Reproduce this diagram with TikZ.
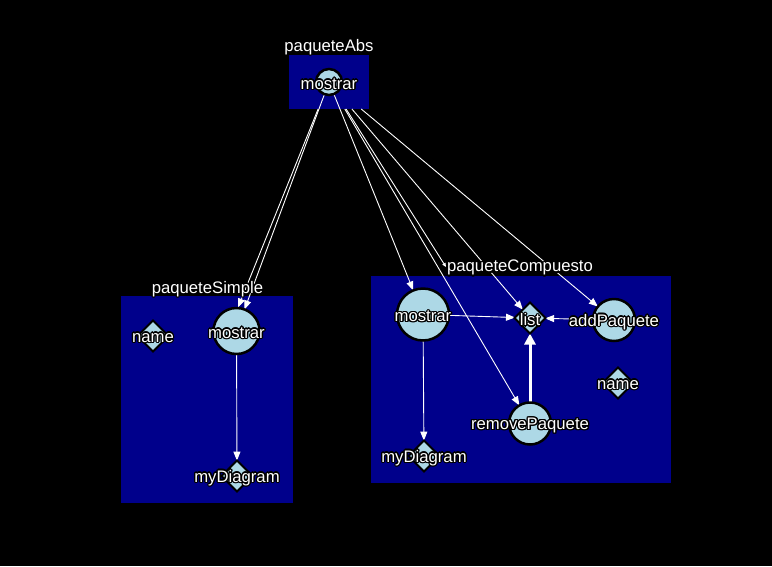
\documentclass[tikz,border=0pt]{standalone}
\usepackage{fontspec}
\setmainfont{Liberation Sans}
\usepackage[copies]{contour}
\contourlength{1.3pt}
\contournumber{12}
\usetikzlibrary{arrows.meta,shapes.geometric}
\definecolor{grp}{RGB}{0,0,139}
\definecolor{lb}{RGB}{173,216,230}
\pgfdeclarelayer{bg}
\pgfdeclarelayer{edges}
\pgfsetlayers{bg,edges,main}
\begin{document}
\begin{tikzpicture}[x=1pt,y=-1pt,
  every node/.style={font=\fontsize{16.7}{19}\selectfont, text=white, inner sep=0pt, outer sep=0pt},
  txt/.style={yshift=-2.5pt},
  grpbox/.style={rectangle, fill=grp, draw=none},
  circ/.style={circle, fill=lb, draw=black, line width=2.5pt, minimum size=#1},
  dia/.style={diamond, fill=lb, draw=black, line width=2pt, minimum size=31pt},
  conn/.style={draw=white, line width=0.9pt, -{Triangle[length=9pt,width=7pt]}},
  thickconn/.style={draw=white, line width=3pt, -{Triangle[length=11pt,width=11pt]}},
  smallconn/.style={draw=white, line width=0.9pt, -{Triangle[length=4pt,width=3.5pt]}}]
\useasboundingbox (0,0) rectangle (772,566);
\begin{pgfonlayer}{bg}
\fill[black] (0,0) rectangle (772,566);
\node[grpbox, minimum width=80pt, minimum height=54pt] (abs) at (329,82) {};
\node[grpbox, minimum width=172pt, minimum height=207pt] (simple) at (207,399.5) {};
\node[grpbox, minimum width=300pt, minimum height=207pt] (comp) at (520.5,379.5) {};
\end{pgfonlayer}
% group labels
\node[txt] (absl) at (329,45) {\contour{black}{paqueteAbs}};
\node[txt] (simplel) at (207.5,287) {\contour{black}{paqueteSimple}};
\coordinate (compa) at (446,267);
% nodes
\node[circ=26pt] (amostrar) at (329,82) {};
\node[circ=46pt] (smostrar) at (236.5,331) {};
\node[dia] (sname) at (153,336) {};
\node[dia] (sdiag) at (237,476) {};
\node[circ=52pt] (cmostrar) at (423,314.5) {};
\node[dia] (clist) at (530,318) {};
\node[circ=42pt] (cadd) at (614,320) {};
\node[dia] (cname) at (618,383) {};
\node[circ=42pt] (cremove) at (530,423.5) {};
\node[dia] (cdiag) at (424,456) {};
% edges
\begin{pgfonlayer}{edges}
\draw[conn] (amostrar) -- (smostrar);
\draw[conn] (abs) -- ([xshift=1.5pt,yshift=0.5pt]smostrar.north);
\draw[conn] (amostrar) -- (cmostrar);
\draw[smallconn] (abs) -- (compa);
\draw[conn] (abs) -- (clist);
\draw[conn] (abs) -- (cremove);
\draw[conn] (abs) -- (cadd);
\draw[conn] (smostrar) -- (sdiag);
\draw[conn] (cmostrar) -- (clist);
\draw[conn] (cadd) -- (clist);
\draw[conn] (cmostrar) -- (cdiag);
\draw[thickconn] (cremove) -- (clist);
\end{pgfonlayer}
\node[txt] (compl) at (520,266) {\contour{black}{paqueteCompuesto}};
% node labels
\node[txt] at (amostrar) {\contour{black}{mostrar}};
\node[txt] at (smostrar) {\contour{black}{mostrar}};
\node[txt] at (sname) {\contour{black}{name}};
\node[txt] at (sdiag) {\contour{black}{myDiagram}};
\node[txt] at (cmostrar) {\contour{black}{mostrar}};
\node[txt] at (clist) {\contour{black}{list}};
\node[txt] at (cadd) {\contour{black}{addPaquete}};
\node[txt] at (cname) {\contour{black}{name}};
\node[txt] at (cremove) {\contour{black}{removePaquete}};
\node[txt] at (cdiag) {\contour{black}{myDiagram}};
\end{tikzpicture}
\end{document}
